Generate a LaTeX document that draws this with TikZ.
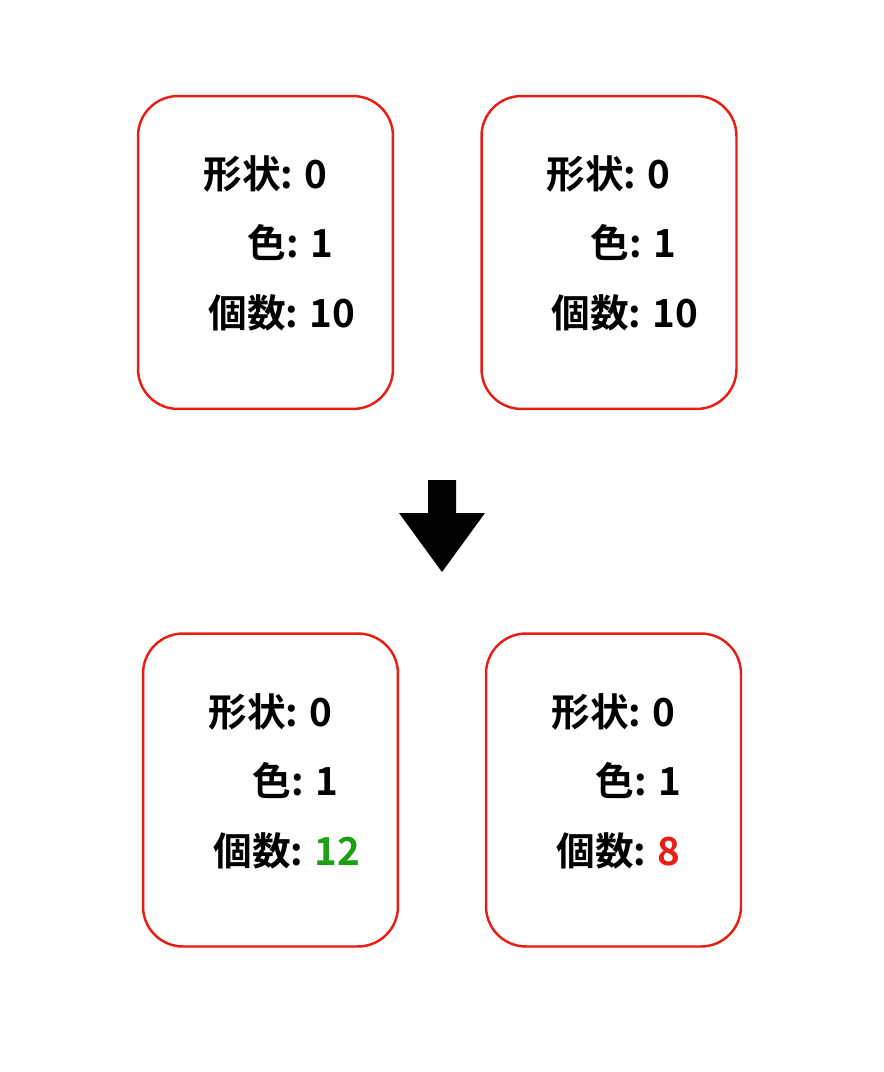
\documentclass[tikz,border=0pt]{standalone}
\usepackage{fontspec}
\newfontfamily\cjk{Noto Sans CJK JP Bold}
\usetikzlibrary{positioning}
\definecolor{cardred}{RGB}{230,30,20}
\definecolor{upgreen}{RGB}{30,160,20}

\begin{document}
\begin{tikzpicture}[x=0.02cm, y=-0.02cm,
  card/.style={draw=cardred, line width=1.4pt, rounded corners=0.8cm, minimum width=5.1cm, minimum height=6.26cm, inner sep=0pt},
  label/.style={font=\cjk\fontsize{22pt}{26pt}\selectfont, inner sep=0pt, anchor=base west}
]
  \useasboundingbox (0,0) rectangle (884,1072);
  % four cards
  \node[card] (tl) at (265.5,252.5) {};
  \node[card] (tr) at (609,252.5) {};
  \node[card] (bl) at (270.5,790) {};
  \node[card] (br) at (613.5,790) {};

  % texts of each card
  \foreach \c/\x/\y/\v in {tl/203/188/10, tr/546/188/10, bl/208/726/{\textcolor{upgreen}{12}}, br/551/726/{\textcolor{cardred}{8}}}{
    \node[label] (\c-shape) at (\x,\y) {形状: 0};
    \node[label] (\c-color) at (\x+44,\y+69) {色: 1};
    \node[label] (\c-count) at (\x+5,\y+139) {個数: \v};
  }

  % arrow between the rows
  \fill (428,480) -- (456,480) -- (456,513) -- (485,513) -- (442,572) -- (399,513) -- (428,513) -- cycle;
\end{tikzpicture}
\end{document}
